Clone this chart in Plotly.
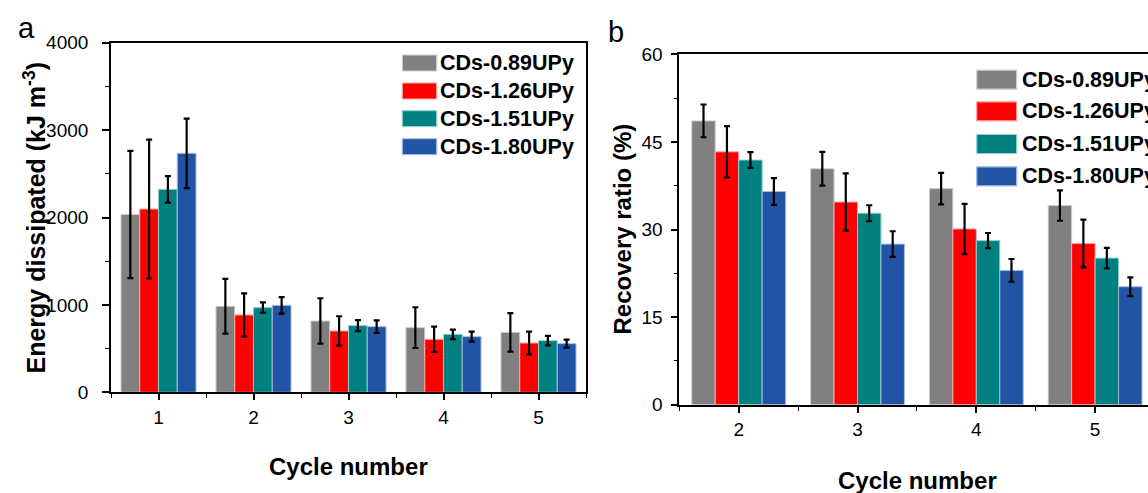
import plotly.graph_objects as go

W, H = 1148, 493
FONT = "Arial, Liberation Sans, sans-serif"

# ---- data -------------------------------------------------------------
series = ["CDs-0.89UPy", "CDs-1.26UPy", "CDs-1.51UPy", "CDs-1.80UPy"]

cycles_a = [1, 2, 3, 4, 5]
energy_089 = [2035, 984, 816, 740, 686]
energy_126 = [2097, 885, 702, 606, 564]
energy_151 = [2322, 969, 763, 663, 591]
energy_180 = [2734, 995, 751, 637, 557]
energy_err_089 = [728, 313, 260, 233, 221]
energy_err_126 = [795, 248, 168, 145, 131]
energy_err_151 = [152, 59, 63, 54, 55]
energy_err_180 = [397, 94, 72, 58, 46]

cycles_b = [2, 3, 4, 5]
recovery_089 = [48.6, 40.4, 37.0, 34.1]
recovery_126 = [43.3, 34.7, 30.1, 27.6]
recovery_151 = [41.9, 32.8, 28.1, 25.1]
recovery_180 = [36.5, 27.5, 23.0, 20.2]
recovery_err_089 = [2.8, 2.9, 2.7, 2.6]
recovery_err_126 = [4.4, 4.9, 4.3, 4.1]
recovery_err_151 = [1.35, 1.35, 1.3, 1.75]
recovery_err_180 = [2.3, 2.2, 1.95, 1.6]

# ---- styling ----------------------------------------------------------
fill_colors = ["#808080", "#ff0000", "#008080", "#2254a6"]
edge_colors = ["#cfcfcf", "#ffa3a3", "#93d2cd", "#a5bbe2"]


def px_x(x):
    return x / W


def px_y(y):
    return 1 - y / H


energy = [energy_089, energy_126, energy_151, energy_180]
energy_err = [energy_err_089, energy_err_126, energy_err_151, energy_err_180]
recovery = [recovery_089, recovery_126, recovery_151, recovery_180]
recovery_err = [recovery_err_089, recovery_err_126, recovery_err_151, recovery_err_180]

fig = go.Figure()

for name, vals, errs, fc, ec in zip(series, energy, energy_err, fill_colors, edge_colors):
    fig.add_trace(go.Bar(
        x=cycles_a, y=vals, name=name, showlegend=False,
        marker=dict(color=fc, line=dict(color=ec, width=1)),
        error_y=dict(type="data", array=errs, color="black", thickness=2.2, width=3),
        xaxis="x", yaxis="y", offsetgroup=name,
    ))

for name, vals, errs, fc, ec in zip(series, recovery, recovery_err, fill_colors, edge_colors):
    fig.add_trace(go.Bar(
        x=cycles_b, y=vals, name=name, showlegend=False,
        marker=dict(color=fc, line=dict(color=ec, width=1)),
        error_y=dict(type="data", array=errs, color="black", thickness=2.2, width=3),
        xaxis="x2", yaxis="y2", offsetgroup=name,
    ))

# plot-area geometry (pixels)
A_L, A_R, A_T, A_B = 111, 586, 42.7, 392.3
B_L, B_T, B_B = 679.3, 54.3, 404.7
B_UNIT = 118.8  # pixels per cycle on panel b

axis_common = dict(
    showline=True, linecolor="black", linewidth=1.6,
    ticks="outside", tickcolor="black", tickwidth=1.6,
    showgrid=False, zeroline=False,
    tickfont=dict(family=FONT, size=19, color="black"),
)

fig.update_layout(
    width=W, height=H,
    margin=dict(l=0, r=0, t=0, b=0, autoexpand=False),
    paper_bgcolor="white", plot_bgcolor="white",
    barmode="group", bargap=0.21, bargroupgap=0,
    showlegend=False,
    font=dict(family=FONT, color="black"),
    xaxis=dict(
        domain=[px_x(A_L), px_x(A_R)], range=[0.5, 5.5], anchor="y",
        tickmode="array", tickvals=cycles_a, ticklen=6, mirror=True,
        minor=dict(ticks="outside", dtick=0.5, tick0=0.5, ticklen=4, tickcolor="black", tickwidth=1.4),
        ticklabelstandoff=1, **axis_common,
    ),
    yaxis=dict(
        domain=[px_y(A_B), px_y(A_T)], range=[0, 4000], anchor="x",
        dtick=1000, ticklen=7, mirror=True,
        minor=dict(ticks="outside", dtick=500, ticklen=4, tickcolor="black", tickwidth=1.4),
        ticklabelstandoff=10, **axis_common,
    ),
    xaxis2=dict(
        domain=[px_x(B_L), 1.0], range=[1.5, 1.5 + (W - B_L) / B_UNIT], anchor="y2",
        tickmode="array", tickvals=cycles_b, ticklen=6, mirror=True,
        minor=dict(ticks="outside", dtick=0.5, tick0=0.5, ticklen=4, tickcolor="black", tickwidth=1.4),
        ticklabelstandoff=1, **axis_common,
    ),
    yaxis2=dict(
        domain=[px_y(B_B), px_y(B_T)], range=[0, 60], anchor="x2",
        dtick=15, ticklen=7, mirror=False,
        minor=dict(ticks="outside", dtick=7.5, ticklen=4, tickcolor="black", tickwidth=1.4),
        ticklabelstandoff=4, **axis_common,
    ),
)

annotations = []
shapes = []

# axis titles and panel letters
title_font = dict(family=FONT, size=24, color="black")
annotations += [
    dict(text="<b>Cycle number</b>", x=px_x((A_L + A_R) / 2), y=px_y(466),
         xref="paper", yref="paper", showarrow=False, font=title_font,
         xanchor="center", yanchor="middle"),
    dict(text="<b>Cycle number</b>", x=px_x(917), y=px_y(480),
         xref="paper", yref="paper", showarrow=False, font=title_font,
         xanchor="center", yanchor="middle"),
    dict(text="<b>Energy dissipated (kJ m<sup>-3</sup>)</b>", x=px_x(34), y=px_y((A_T + A_B) / 2),
         xref="paper", yref="paper", showarrow=False,
         font=dict(family=FONT, size=25, color="black"), textangle=-90,
         xanchor="center", yanchor="middle"),
    dict(text="<b>Recovery ratio (%)</b>", x=px_x(622), y=px_y((B_T + B_B) / 2),
         xref="paper", yref="paper", showarrow=False, font=title_font, textangle=-90,
         xanchor="center", yanchor="middle"),
    dict(text="a", x=px_x(26), y=px_y(28), xref="paper", yref="paper", showarrow=False,
         font=dict(family=FONT, size=29, color="black"), xanchor="center", yanchor="middle"),
    dict(text="b", x=px_x(616), y=px_y(32), xref="paper", yref="paper", showarrow=False,
         font=dict(family=FONT, size=29, color="black"), xanchor="center", yanchor="middle"),
]


def add_key(box_l, box_r, text_x, rows, half_h, size):
    for name, fc, ec, yc in zip(series, fill_colors, edge_colors, rows):
        shapes.append(dict(
            type="rect", xref="paper", yref="paper",
            x0=px_x(box_l), x1=px_x(box_r), y0=px_y(yc + half_h), y1=px_y(yc - half_h),
            fillcolor=fc, line=dict(color=ec, width=1.2), layer="above",
        ))
        annotations.append(dict(
            text="<b>%s</b>" % name, x=px_x(text_x), y=px_y(yc),
            xref="paper", yref="paper", showarrow=False,
            font=dict(family=FONT, size=size, color="black"),
            xanchor="left", yanchor="middle", borderpad=0,
        ))


add_key(402.3, 436.7, 439, [63, 91, 118.7, 146.7], 8, 21.5)
add_key(976.7, 1016.7, 1021, [79.7, 111.3, 144, 176.3], 9.5, 21.5)

fig.update_layout(annotations=annotations, shapes=shapes)

fig.write_html("out.html")
